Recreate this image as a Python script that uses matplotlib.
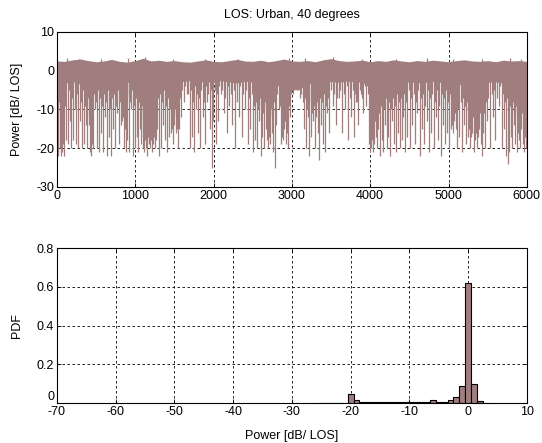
import numpy as np
import matplotlib
matplotlib.use("Agg")
from matplotlib import pyplot as plt

plt.rcParams['font.family'] = ['Liberation Sans', 'DejaVu Sans']
plt.rcParams['font.size'] = 9
plt.rcParams['axes.unicode_minus'] = False

# top panel: band edges every 100 samples
band_x = np.arange(0, 6001, 100)
band_hi = [2.5, 2.4, 2.8, 3.0, 2.6, 2.3, 2.5, 2.9, 2.4, 2.2, 2.6, 3.2, 2.5, 2.7, 2.4, 2.6,
           2.3, 2.2, 2.5, 2.8, 2.4, 2.3, 2.6, 2.9, 2.5, 2.4, 2.7, 2.3, 2.6, 3.0, 2.5, 2.4,
           2.6, 2.3, 2.8, 3.1, 2.6, 2.4, 2.5, 2.7, 2.3, 2.6, 2.4, 2.8, 2.5, 2.3, 2.6, 2.4,
           2.7, 2.5, 2.3, 2.6, 2.8, 2.5, 2.4, 2.6, 2.3, 2.7, 2.5, 2.6, 2.4]
band_lo = [-3.0, -3.2, -2.8, -3.5, -4.0, -2.9, -3.1, -3.3, -4.5, -3.0, -3.2, -5.0, -4.0, -3.5,
           -3.0, -4.0, -2.8, -2.6, -2.7, -3.0, -2.8, -2.6, -2.9, -3.2, -2.7, -3.0, -3.5, -4.0,
           -3.8, -4.2, -5.0, -4.8, -3.2, -3.5, -3.0, -2.8, -3.0, -2.7, -2.9, -3.0, -4.5, -4.0,
           -3.5, -3.2, -3.0, -2.9, -3.1, -3.0, -2.8, -3.0, -3.5, -3.2, -4.0, -3.8, -3.4, -3.0,
           -2.9, -3.2, -3.6, -3.5, -3.3]

# short upward peaks above the band
peak_pos = [130, 280, 560, 905, 1120, 1480, 1890, 2310, 2960, 3170, 3520, 3890, 4330, 4720,
            5060, 5430, 5790, 5930]
peak_db = [3.3, 3.0, 3.1, 3.2, 3.6, 3.0, 3.1, 2.9, 3.3, 3.2, 3.4, 3.0, 3.1, 3.2, 3.0, 3.1, 3.3, 3.0]

# deep fades (sample index, depth in dB)
dip_pos = [8, 20, 35, 48, 62, 75, 90, 120, 140, 165, 180, 210, 240, 265, 290, 320, 345, 370, 390,
           405, 415, 425, 435, 445, 460, 480,
           510, 535, 560, 590, 615, 640, 665, 690, 715, 740, 765, 790, 815, 830, 845, 855, 870,
           885, 900, 925, 950, 975, 995,
           1020, 1040, 1060, 1080, 1095, 1105, 1115, 1125, 1135, 1145, 1155, 1165, 1175, 1185,
           1195, 1205, 1215, 1225, 1235, 1250, 1265, 1280, 1300, 1330, 1355, 1380, 1400, 1430,
           1455, 1470, 1485, 1500,
           1515, 1530, 1545, 1560, 1580, 1620, 1660, 1700, 1720, 1745, 1770, 1800, 1830, 1860,
           1890, 1920, 1950, 1975, 1995,
           2030, 2060, 2090, 2130, 2170, 2200, 2240, 2280, 2320, 2360, 2400, 2440, 2470,
           2510, 2535, 2555, 2575, 2600, 2625, 2645, 2665, 2680, 2695, 2710, 2725, 2740, 2755,
           2780, 2800, 2830, 2860, 2875, 2890, 2905, 2920, 2935, 2950, 2970,
           3020, 3060, 3100, 3150, 3175, 3200, 3225, 3250, 3270, 3290, 3310, 3330, 3350, 3375,
           3400, 3425, 3450, 3480,
           3520, 3560, 3600, 3640, 3680, 3720, 3760, 3790, 3820, 3850, 3880, 3910, 3950, 3985, 3995,
           4010, 4025, 4040, 4055, 4070, 4085, 4100, 4120, 4145, 4165, 4185, 4210, 4230, 4250,
           4275, 4300, 4325, 4350, 4375, 4400, 4425, 4450, 4475,
           4510, 4540, 4570, 4600, 4630, 4660, 4690, 4720, 4750, 4780, 4810, 4840, 4870, 4900,
           4930, 4960, 4985,
           5010, 5030, 5045, 5060, 5075, 5090, 5110, 5140, 5170, 5200, 5225, 5245, 5260, 5275,
           5290, 5305, 5320, 5335, 5350, 5365, 5380, 5395, 5410, 5425, 5445, 5470, 5495,
           5530, 5570, 5600, 5640, 5680, 5710, 5740, 5760, 5775, 5795, 5815, 5835, 5855, 5870,
           5885, 5900, 5915, 5930, 5945, 5960, 5975, 5990]
dip_db = [-21, -22, -20, -22, -21, -19, -22, -18, -19, -13, -20, -18, -19, -20, -13, -20, -19, -14, -20,
          -12, -14, -21, -22, -19, -20, -10,
          -20, -21, -16, -21, -12, -22, -17, -22, -15, -20, -11, -19, -14, -13, -12, -20, -15,
          -21, -18, -21, -10, -22, -20,
          -17, -21, -15, -19, -20, -17, -21, -18, -20, -19, -22, -17, -19, -20,
          -16, -18, -21, -19, -17, -20, -18, -15, -22, -20, -14, -18, -21, -17,
          -16, -15, -19, -14,
          -16, -15, -20, -15, -12, -8, -6, -20, -17, -21, -10, -16, -20, -12,
          -19, -8, -15, -25, -13,
          -19, -13, -6, -11, -16, -9, -14, -20, -12, -17, -10, -19, -15,
          -21, -18, -20, -13, -22, -17, -20, -15, -18, -20, -17, -19, -16, -21,
          -25, -14, -10, -19, -17, -18, -15, -19, -16, -20, -12,
          -6, -5, -7, -15, -20, -12, -22, -17, -13, -20, -12, -16, -23, -14,
          -19, -21, -11, -16,
          -9, -14, -7, -16, -10, -18, -12, -17, -8, -14, -6, -11, -9, -19, -21,
          -20, -18, -21, -19, -17, -20, -15, -22, -18, -21, -14, -20, -17, -22,
          -13, -19, -21, -16, -20, -18, -12, -21, -17,
          -20, -14, -19, -11, -22, -15, -19, -13, -21, -16, -20, -12, -18, -22,
          -14, -19, -16,
          -20, -15, -14, -16, -13, -15, -20, -17, -21, -14, -19, -17, -15, -20,
          -17, -16, -21, -18, -16, -20, -17, -15, -19, -22, -16, -20, -13,
          -20, -12, -18, -9, -20, -15, -22, -24, -21, -17, -20, -14, -19, -21,
          -16, -18, -20, -15, -19, -21, -17, -20]

# shallow fades just below the band
shallow_pos = [28, 55, 100, 150, 195, 225, 255, 305, 335, 360, 398, 430, 470, 495, 520, 548, 575,
               600, 628, 655, 678, 705, 728, 752, 778, 802, 838, 862, 892, 915, 938, 962, 985,
               1010, 1030, 1050, 1070, 1090, 1110, 1130, 1150, 1170, 1190, 1210, 1230, 1245,
               1260, 1290, 1315, 1345, 1370, 1390, 1415, 1445, 1462, 1478, 1492, 1508, 1522,
               1538, 1552, 1570, 1600, 1640, 1680, 1710, 1735, 1760, 1785, 1815, 1845, 1875,
               1905, 1935, 1962, 1985, 2015, 2045, 2075, 2110, 2150, 2185, 2220, 2260, 2300,
               2340, 2380, 2420, 2455, 2490, 2520, 2545, 2565, 2590, 2612, 2635, 2655, 2672,
               2688, 2702, 2718, 2732, 2748, 2768, 2790, 2815, 2845, 2868, 2882, 2898, 2912,
               2928, 2942, 2958, 2985, 3005, 3040, 3080, 3120, 3140, 3162, 3188, 3212, 3238,
               3260, 3280, 3300, 3320, 3340, 3362, 3388, 3412, 3438, 3465, 3500, 3540, 3580,
               3620, 3660, 3700, 3740, 3775, 3805, 3835, 3865, 3895, 3930, 3970, 4002, 4018,
               4032, 4048, 4062, 4078, 4092, 4110, 4132, 4155, 4175, 4198, 4220, 4240, 4262,
               4288, 4312, 4338, 4362, 4388, 4412, 4438, 4462, 4490, 4525, 4555, 4585, 4615,
               4645, 4675, 4705, 4735, 4765, 4795, 4825, 4855, 4885, 4915, 4945, 4972, 4998,
               5020, 5038, 5052, 5068, 5082, 5100, 5125, 5155, 5185, 5212, 5235, 5252, 5268,
               5282, 5298, 5312, 5328, 5342, 5358, 5372, 5388, 5402, 5418, 5435, 5458, 5482,
               5510, 5550, 5585, 5620, 5660, 5695, 5725, 5750, 5768, 5785, 5805, 5825, 5845,
               5862, 5878, 5892, 5908, 5922, 5938, 5952, 5968, 5982, 5996]
shallow_db = [-8, -6, -9, -5, -7, -10, -6, -8, -5, -9, -7, -11, -6, -8, -5, -7, -9,
              -6, -8, -5, -10, -7, -6, -9, -5, -8, -10, -9, -7, -6, -8, -5, -9,
              -7, -10, -8, -12, -9, -11, -8, -10, -12, -9, -11, -8, -10,
              -9, -7, -6, -8, -5, -9, -7, -10, -11, -9, -12, -10, -11,
              -9, -12, -7, -5, -4, -6, -5, -8, -4, -6, -7, -5, -8,
              -4, -6, -5, -7, -5, -6, -4, -5, -7, -4, -6, -5, -8,
              -4, -6, -5, -7, -6, -9, -8, -10, -7, -9, -11, -8, -10,
              -12, -9, -11, -10, -12, -8, -7, -6, -9, -10, -12, -11, -13,
              -10, -12, -9, -6, -5, -4, -5, -6, -8, -7, -10, -9, -8,
              -11, -9, -10, -8, -9, -7, -8, -6, -9, -7, -5, -6, -7, -5,
              -6, -4, -7, -5, -6, -8, -5, -7, -4, -6, -5, -10, -12,
              -11, -13, -10, -12, -11, -9, -8, -10, -7, -9, -8, -10, -7,
              -9, -6, -8, -7, -9, -6, -8, -5, -7, -6, -8, -5, -7,
              -6, -9, -5, -7, -6, -8, -5, -9, -6, -7, -5, -8, -6, -7,
              -9, -10, -11, -9, -10, -8, -7, -9, -8, -10, -9, -11, -10,
              -12, -9, -11, -10, -12, -9, -11, -10, -12, -11, -8, -7,
              -6, -5, -7, -4, -6, -8, -7, -10, -9, -11, -8, -10, -9,
              -11, -10, -12, -9, -11, -10, -12, -9, -9]

# histogram of power (bin centres in dB, pdf)
bin_db = [-60, -25, -24, -23, -22, -21, -20, -19, -18, -17, -16, -15, -14, -13, -12, -11,
          -10, -9, -8, -7, -6, -5, -4, -3, -2, -1, 0, 1, 2, 3]
pdf = [0.002, 0.002, 0.002, 0.002, 0.002, 0.002, 0.046, 0.016, 0.008, 0.008, 0.008, 0.006,
       0.008, 0.004, 0.004, 0.004, 0.008, 0.008, 0.006, 0.006, 0.015, 0.004, 0.004, 0.015,
       0.030, 0.088, 0.620, 0.098, 0.010, 0.003]

col = '#a07e7e'
grid_kw = dict(color='black', linestyle=(0, (3, 3)), linewidth=0.6)

fig = plt.figure(figsize=(5.42, 4.43), dpi=100)
ax1 = fig.add_axes([0.105, 0.578, 0.867, 0.350])
ax2 = fig.add_axes([0.105, 0.090, 0.867, 0.350])

# time series
ax1.fill_between(band_x, band_lo, band_hi, color=col, linewidth=0)
lo = np.interp(dip_pos, band_x, band_lo)
ax1.vlines(dip_pos, dip_db, lo + 0.5, color=col, linewidth=0.9)
lo_s = np.interp(shallow_pos, band_x, band_lo)
ax1.vlines(shallow_pos, shallow_db, lo_s + 0.5, color=col, linewidth=0.9)
hi = np.interp(peak_pos, band_x, band_hi)
ax1.vlines(peak_pos, hi - 0.5, peak_db, color=col, linewidth=0.9)
ax1.set_xlim(0, 6000)
ax1.set_ylim(-30, 10)
ax1.set_xticks(range(0, 6001, 1000))
ax1.set_yticks([-30, -20, -10, 0, 10])
ax1.set_ylabel('Power [dB/ LOS]')
ax1.set_title('LOS: Urban, 40 degrees', fontsize=9, pad=10)

# pdf
ax2.bar(bin_db, pdf, width=1.0, color=col, edgecolor='black', linewidth=0.8)
ax2.set_xlim(-70, 10)
ax2.set_ylim(0, 0.8)
ax2.set_xticks(range(-70, 11, 10))
ax2.set_yticks([0, 0.2, 0.4, 0.6, 0.8])
ax2.set_yticklabels(['0', '0.2', '0.4', '0.6', '0.8'])
ax2.get_yticklabels()[0].set_verticalalignment('bottom')
ax2.set_ylabel('PDF')
ax2.set_xlabel('Power [dB/ LOS]', labelpad=9)

for ax in (ax1, ax2):
    ax.set_axisbelow(True)
    ax.grid(True, **grid_kw)
    ax.tick_params(direction='in', top=True, right=True, length=3, width=0.6, pad=2, labelsize=9)
    ax.yaxis.set_label_coords(-0.072, 0.5)
    for s in ax.spines.values():
        s.set_linewidth(0.8)

fig.savefig('out.png', dpi=100)
